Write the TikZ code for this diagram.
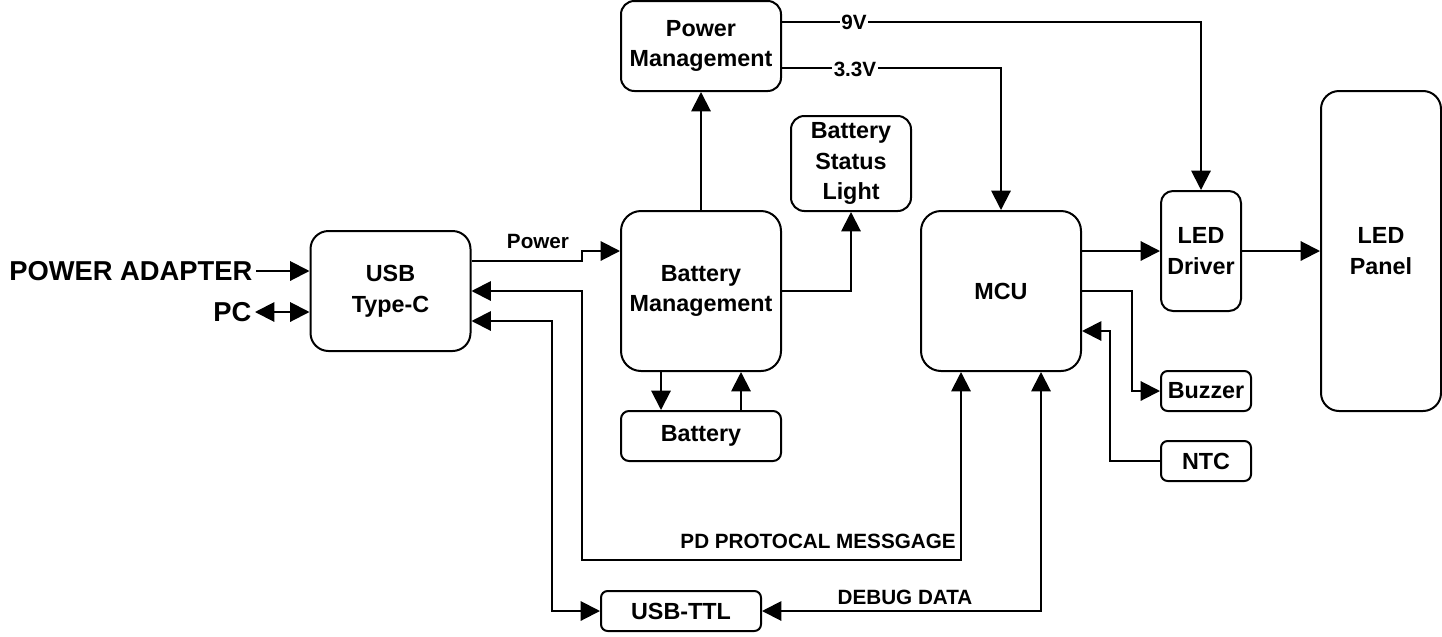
\documentclass[tikz,border=0pt]{standalone}
\usepackage{fontspec}
\setmainfont{Liberation Sans}
\usetikzlibrary{arrows.meta,calc}

\begin{document}
\begin{tikzpicture}[x=0.75pt, y=-0.75pt, line width=1.5pt, >={Triangle[length=14.5pt, width=14.5pt]},
    blk/.style={draw, rounded corners=#1, align=center, inner sep=0pt, font=\bfseries\fontsize{17.5}{23}\selectfont},
    blk/.default=12pt,
    wire/.style={->, line width=1.5pt},
    tag/.style={font=\bfseries\fontsize{15.5}{18}\selectfont, inner sep=1pt},
    bigtag/.style={font=\bfseries\fontsize{20.5}{24}\selectfont, inner sep=2pt, anchor=east}]

    % Canvas size
    \useasboundingbox (0,0) rectangle (1442,636);

    % === INPUTS ===
    \node[bigtag] (adapter) at (256, 271) {POWER ADAPTER};
    \node[bigtag] (pc) at (255, 312) {PC};

    % === BLOCKS ===
    \node[blk=13.5pt, minimum width=120pt, minimum height=90pt] (usb) at (390.5, 291) {USB\\Type-C};
    \node[blk=15pt, minimum width=120pt, minimum height=120pt] (bm) at (701, 291) {Battery\\Management};
    \node[blk=10pt, minimum width=120pt, minimum height=67.5pt] (pm) at (701, 46) {Power\\Management};
    \node[blk=10pt, minimum width=90pt, minimum height=71.25pt] (bsl) at (851, 163.5) {Battery\\Status\\Light};
    \node[blk=6pt, minimum width=120pt, minimum height=37.5pt] (bat) at (701, 436) {Battery};
    \node[blk=15pt, minimum width=120pt, minimum height=120pt] (mcu) at (1001, 291) {MCU};
    \node[blk=9pt, minimum width=60pt, minimum height=90pt] (drv) at (1201, 251) {LED\\Driver};
    \node[blk=13.5pt, minimum width=90pt, minimum height=240pt] (panel) at (1381, 251) {LED\\Panel};
    \node[blk=5pt, minimum width=67.5pt, minimum height=30pt] (buz) at (1206, 391) {Buzzer};
    \node[blk=5pt, minimum width=67.5pt, minimum height=30pt] (ntc) at (1206, 461) {NTC};
    \node[blk=5pt, minimum width=120pt, minimum height=30pt] (ttl) at (681, 611) {USB-TTL};

    % === CONNECTORS ===
    \draw[wire] (adapter.east) -- (adapter.east -| usb.west);
    \draw[wire, <->] (pc.east) -- (pc.east -| usb.west);

    % USB -> battery management
    \draw[wire] ([yshift=22.5pt]usb.east) -- ++(110,0) |- ([yshift=30pt]bm.west);
    \node[tag] (lblpower) at (538, 241) {Power};

    % PD messages and debug link
    \draw[wire, <->] (usb.east) -- ++(110,0) -- ++(0,269) -| ([xshift=-30pt]mcu.south);
    \draw[wire, <->] ([yshift=-22.5pt]usb.east) -- ++(80,0) |- (ttl.west);
    \draw[wire, <->] (ttl.east) -| ([xshift=30pt]mcu.south);
    \node[tag, anchor=east] (lblpd) at (958, 541) {PD PROTOCAL MESSGAGE};
    \node[tag] (lbldebug) at (905, 597) {DEBUG DATA};

    % Battery side
    \draw[wire] (bm.north) -- (pm.south);
    \draw[wire] (bm.east) -| (bsl.south);
    \draw[wire] ([xshift=-30pt]bm.south) -- ([xshift=-30pt]bat.north);
    \draw[wire] ([xshift=30pt]bat.north) -- ([xshift=30pt]bm.south);

    % Supply rails
    \draw[wire] ([yshift=18pt]pm.east) -| (drv.north);
    \draw[wire] ([yshift=-16.5pt]pm.east) -| (mcu.north);
    \node[tag, fill=white] (lbl9v) at (854, 22) {9V};
    \node[tag, fill=white] (lbl33v) at (855, 69) {3.3V};

    % MCU peripherals
    \draw[wire] ([yshift=30pt]mcu.east) -- (drv.west);
    \draw[wire] (drv.east) -- (panel.west);
    \draw[wire] (mcu.east) -- ++(50,0) |- (buz.west);
    \draw[wire] (ntc.west) -- ++(-50,0) |- ([yshift=-30pt]mcu.east);

\end{tikzpicture}
\end{document}
